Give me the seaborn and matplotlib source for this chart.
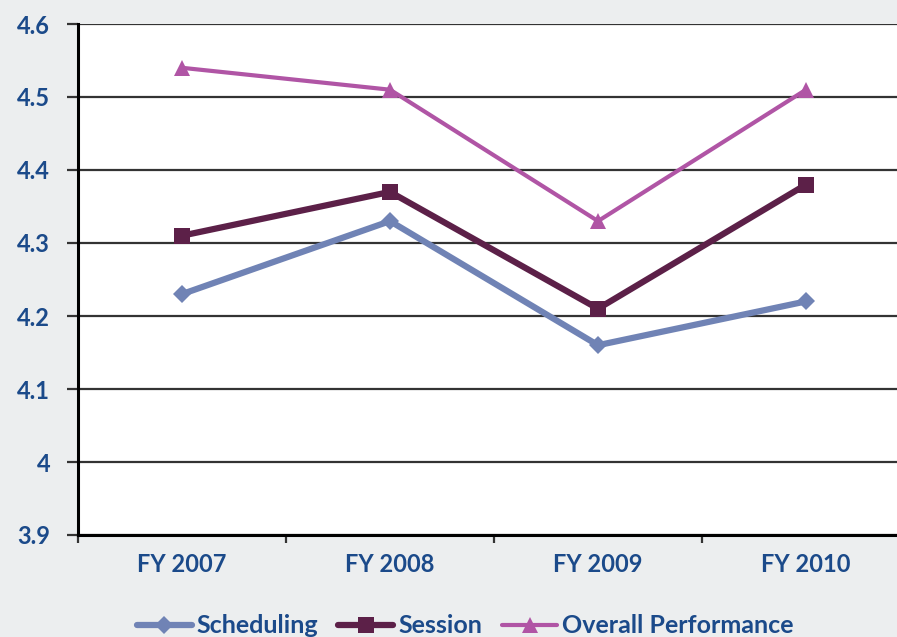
import matplotlib.pyplot as plt
import seaborn as sns
import pandas as pd

# Chart data
years = ["FY 2007", "FY 2008", "FY 2009", "FY 2010"]
scheduling = [4.23, 4.33, 4.16, 4.22]
session = [4.31, 4.37, 4.21, 4.38]
overall = [4.54, 4.51, 4.33, 4.51]
y_ticks = [3.9, 4.0, 4.1, 4.2, 4.3, 4.4, 4.5, 4.6]
y_labels = ["3.9", "4", "4.1", "4.2", "4.3", "4.4", "4.5", "4.6"]

series = [
    ("Scheduling", scheduling, "#7083B5", "D", 9, 4.5),
    ("Session", session, "#5C2048", "s", 11, 4.5),
    ("Overall Performance", overall, "#B055A5", "^", 12, 3),
]

text_blue = "#1B4A8A"

sns.set_style("white")
plt.rcParams["font.family"] = ["Lato", "DejaVu Sans"]

fig = plt.figure(figsize=(8.97, 6.37), dpi=100)
fig.patch.set_facecolor("#ECEEEF")
ax = fig.add_axes([78 / 897, 102 / 637, 832 / 897, 511 / 637])
ax.set_facecolor("white")

for name, vals, color, marker, ms, lw in series:
    df = pd.DataFrame({"year": years, "score": vals})
    sns.lineplot(data=df, x="year", y="score", ax=ax, color=color, marker=marker,
                 markersize=ms, markeredgewidth=0, linewidth=lw, label=name, zorder=3)

ax.set_xlim(-0.5, 3.5)
ax.set_ylim(3.9, 4.6)
ax.set_yticks(y_ticks)
ax.set_yticklabels(y_labels)
ax.set_xticks(range(len(years)))
ax.set_xticklabels(years)
ax.set_xticks([-0.5, 0.5, 1.5, 2.5, 3.5], minor=True)
ax.set_xlabel("")
ax.set_ylabel("")

ax.grid(axis="y", color="#333333", linewidth=1.6, zorder=1)
ax.set_axisbelow(True)
for side in ["top", "right"]:
    ax.spines[side].set_visible(False)
for side in ["left", "bottom"]:
    ax.spines[side].set_color("black")
    ax.spines[side].set_linewidth(2.2)

ax.tick_params(axis="y", length=8, width=1.6, color="#333333", pad=12,
               labelsize=17, labelcolor=text_blue, left=True)
ax.tick_params(axis="x", which="major", length=0, pad=13, labelsize=17, labelcolor=text_blue)
ax.tick_params(axis="x", which="minor", length=6, width=1.6, color="#333333", bottom=True)
for lbl in ax.get_yticklabels() + ax.get_xticklabels():
    lbl.set_fontweight("bold")

leg = ax.legend(loc="lower center", bbox_to_anchor=(387 / 832, -0.22), ncol=3,
                frameon=False, fontsize=18, handlelength=2.2, handletextpad=0.2,
                columnspacing=0.8, borderaxespad=0)
for t in leg.get_texts():
    t.set_color(text_blue)
    t.set_fontweight("bold")

fig.savefig("out.png", dpi=100, facecolor=fig.get_facecolor())
